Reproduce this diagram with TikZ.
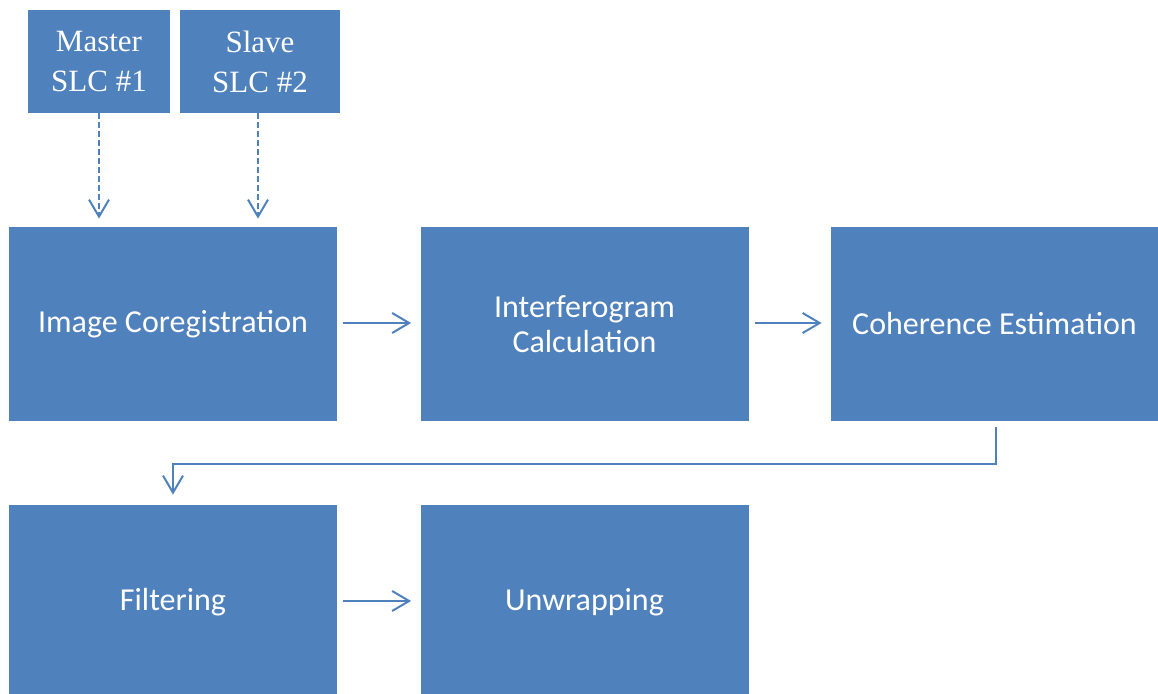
\documentclass[tikz,border=0pt]{standalone}
\usepackage{fontspec}
\setmainfont{Carlito}
\newfontfamily\serifface{Liberation Serif}
\usetikzlibrary{arrows.meta}
\definecolor{boxblue}{HTML}{4F81BD}
\tikzset{
  procbox/.style={fill=boxblue, draw=none, text=white, align=center,
    inner sep=0pt, minimum width=164pt, minimum height=97pt,
    font=\fontsize{16}{17.5}\selectfont},
  srcbox/.style={fill=boxblue, draw=none, text=white, align=center,
    inner sep=0pt, minimum height=51.5pt,
    font=\serifface\fontsize{15.5}{20}\selectfont},
  flow/.style={draw=boxblue, line width=1pt,
    -{Straight Barb[length=8.5pt,width=10pt,line width=1pt]}},
  dflow/.style={flow, dashed, dash pattern=on 3pt off 1.5pt}
}
\begin{document}
\begin{tikzpicture}[x=0.5pt,y=-0.5pt]
\useasboundingbox (0,0) rectangle (1158,694);
% boxes
\node[srcbox, minimum width=71pt] (master) at (99,61.5) {Master\\SLC \#1};
\node[srcbox, minimum width=80pt] (slave) at (260,61.5) {Slave\\SLC \#2};
\node[procbox] (coreg) at (173,324) {Image Coregistration};
\node[procbox] (interf) at (584.5,324) {Interferogram\\Calculation};
\node[procbox, minimum width=163.5pt] (coh) at (994.5,324) {Coherence Estimation};
\node[procbox] (filt) at (173,602) {Filtering};
\node[procbox] (unwr) at (584.5,602) {Unwrapping};
% connectors
\draw[dflow, shorten >=4pt] (master.south) -- (master.south |- coreg.north);
\draw[dflow, shorten >=4pt] ([xshift=-1pt]slave.south) -- ([xshift=-1pt]slave.south |- coreg.north);
\draw[flow, shorten <=3pt, shorten >=4.5pt] (coreg.east |- 0,323) -- (interf.west |- 0,323);
\draw[flow, shorten <=3pt, shorten >=4.5pt] (interf.east |- 0,323) -- (coh.west |- 0,323);
\draw[flow] ([xshift=.75pt,yshift=-3pt]coh.south) |- ([yshift=20.5pt]filt.north) -- ([yshift=5pt]filt.north);
\draw[flow, shorten <=3pt, shorten >=4.5pt] (filt.east |- 0,601) -- (unwr.west |- 0,601);
\end{tikzpicture}
\end{document}
